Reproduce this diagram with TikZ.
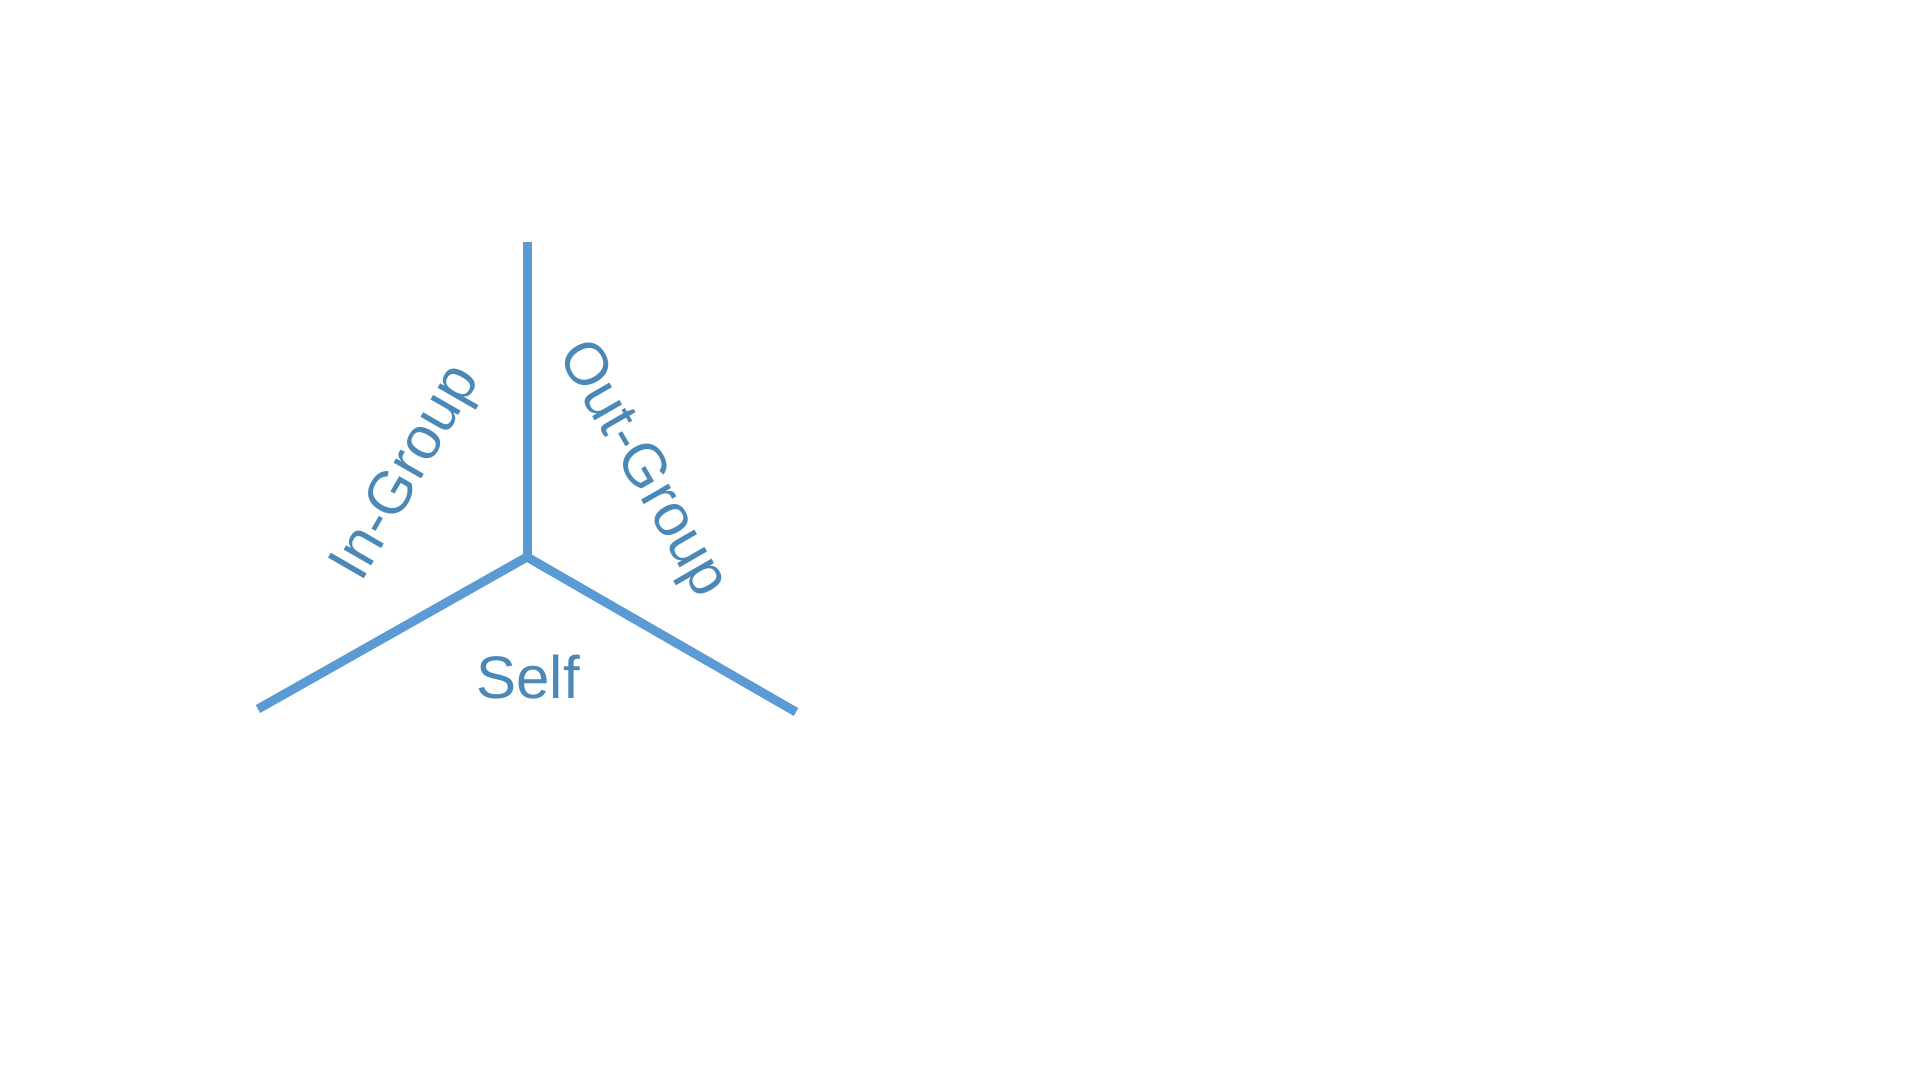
\documentclass[tikz,border=0pt]{standalone}
\usepackage{fontspec}
\setmainfont{Liberation Sans}
\definecolor{spoke}{HTML}{5B9BD5}
\definecolor{labelblue}{HTML}{4A88B8}
\begin{document}
\begin{tikzpicture}[x=1pt,y=-1pt,
  spokeline/.style={draw=spoke,line width=9pt},
  lbl/.style={text=labelblue,font=\fontsize{60}{72}\selectfont,inner sep=0pt}]
\useasboundingbox[fill=white] (0,0) rectangle (1920,1080);
\coordinate (c) at (527,557);
\coordinate (top) at (527,242);
\coordinate (left) at (258,709);
\coordinate (right) at (796,712);
\draw[spokeline] (top) -- (c);
\draw[spokeline,line join=miter] (left) -- (c) -- (right);
\node[lbl,anchor=base] (self) at (528,698) {Self};
\node[lbl,rotate=60] (ingroup) at (408,474) {In-Group};
\node[lbl,rotate=-60] (outgroup) at (641,470) {Out-Group};
\end{tikzpicture}
\end{document}
